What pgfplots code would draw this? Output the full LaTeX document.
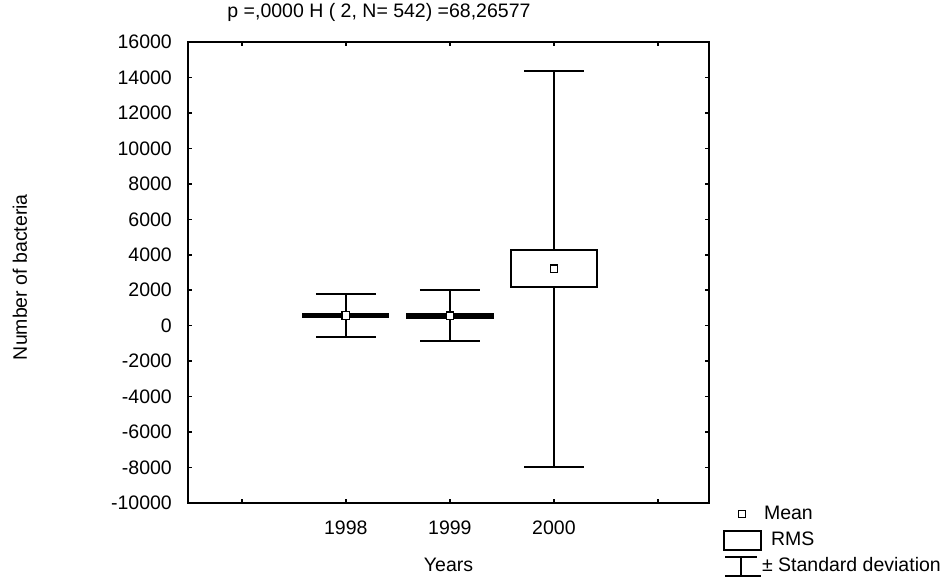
\documentclass[border=0pt]{standalone}
\usepackage{fontspec}
\setmainfont{Liberation Sans}
\usepackage{pgfplots}
\pgfplotsset{compat=1.18}
\newcommand{\chartfont}{\fontsize{19.5bp}{22bp}\selectfont}
\begin{document}
\chartfont
\begin{tikzpicture}
\useasboundingbox (0,0) rectangle (948bp,580bp);
\begin{axis}[
  at={(188bp,77bp)}, anchor=south west,
  width=521bp, height=461bp, scale only axis,
  xmin=0.484, xmax=5.49,
  ymin=-10000, ymax=16000,
  scaled y ticks=false, scaled x ticks=false,
  xtick={1,2,3,4,5}, xticklabels={,1998,1999,2000,},
  ytick={-10000,-8000,-6000,-4000,-2000,0,2000,4000,6000,8000,10000,12000,14000,16000},
  yticklabels={-10000,-8000,-6000,-4000,-2000,0,2000,4000,6000,8000,10000,12000,14000,16000},
  axis line style={line width=2bp, black},
  major tick style={line width=1.6bp, black},
  major tick length=4bp,
  tick align=inside,
  xtick pos=both, ytick pos=both,
  tick label style={font=\chartfont, black},
  yticklabel style={inner sep=0pt, anchor=east, xshift=-16bp},
  xticklabel style={inner sep=0pt, anchor=north, yshift=-18bp},
  title={p =,0000 H ( 2, N= 542) =68,26577},
  title style={font=\chartfont, at={(axis description cs:0.3666,1.052)}, anchor=center, inner sep=0pt, yshift=0pt},
  xlabel={Years},
  xlabel style={font=\chartfont, at={(axis description cs:0.5,-0.1345)}, anchor=center, inner sep=0pt},
  ylabel={Number of bacteria},
  ylabel style={font=\chartfont, at={(axis description cs:-0.3225,0.49)}, anchor=center, inner sep=0pt},
  legend style={at={(axis description cs:1.027,0.0043)}, anchor=north west, draw=none, fill=none,
    inner sep=0pt, outer sep=0pt, row sep=0pt, column sep=0pt,
    nodes={inner sep=0pt, anchor=west}, font=\chartfont},
  legend cell align=left,
]
% SD whiskers (mean +- SD)
\addplot[forget plot, draw=none, mark=none,
  error bars/.cd, y dir=both, y explicit,
  error bar style={line width=2bp, black},
  error mark=|, error mark options={line width=2bp, black, mark size=29.9bp}]
  coordinates {(2,575) +- (0,1210) (3,560) +- (0,1450) (4,3220) +- (0,11170)};
% RMS boxes
\addplot[forget plot, mark=none, draw=black, fill=black, line width=2bp]
  coordinates {(1.59,510) (2.41,510) (2.41,640) (1.59,640)} -- cycle;
\addplot[forget plot, mark=none, draw=black, fill=black, line width=2bp]
  coordinates {(2.59,450) (3.41,450) (3.41,675) (2.59,675)} -- cycle;
\addplot[forget plot, mark=none, draw=black, fill=white, line width=2bp]
  coordinates {(3.59,2200) (4.41,2200) (4.41,4260) (3.59,4260)} -- cycle;
% means
\addplot[forget plot, only marks, mark=square*, mark size=3.7bp,
  mark options={fill=white, draw=black, line width=1.3bp}] coordinates {(2,575) (3,560) (4,3220)};
% legend
\addlegendimage{legend image code/.code={
  \path[draw=none, fill=none] (0bp,-13bp) rectangle (38bp,13bp);
  \draw[black, line width=1.3bp, fill=white] (14.3bp,-3.7bp) rectangle (21.7bp,3.7bp);}}
\addlegendentry{\hspace{2bp}Mean}
\addlegendimage{legend image code/.code={
  \path[draw=none, fill=none] (0bp,-13bp) rectangle (38bp,13bp);
  \draw[black, line width=2bp] (0bp,-9.5bp) rectangle (37bp,9.5bp);}}
\addlegendentry{\hspace{9bp}RMS}
\addlegendimage{legend image code/.code={
  \path[draw=none, fill=none] (0bp,-13bp) rectangle (38bp,13bp);
  \draw[black, line width=2bp] (1bp,9.5bp) -- (33bp,9.5bp) (17bp,9.5bp) -- (17bp,-9.5bp) (1bp,-9.5bp) -- (37bp,-9.5bp);}}
\addlegendentry{± Standard deviation}
\end{axis}
\end{tikzpicture}
\end{document}
